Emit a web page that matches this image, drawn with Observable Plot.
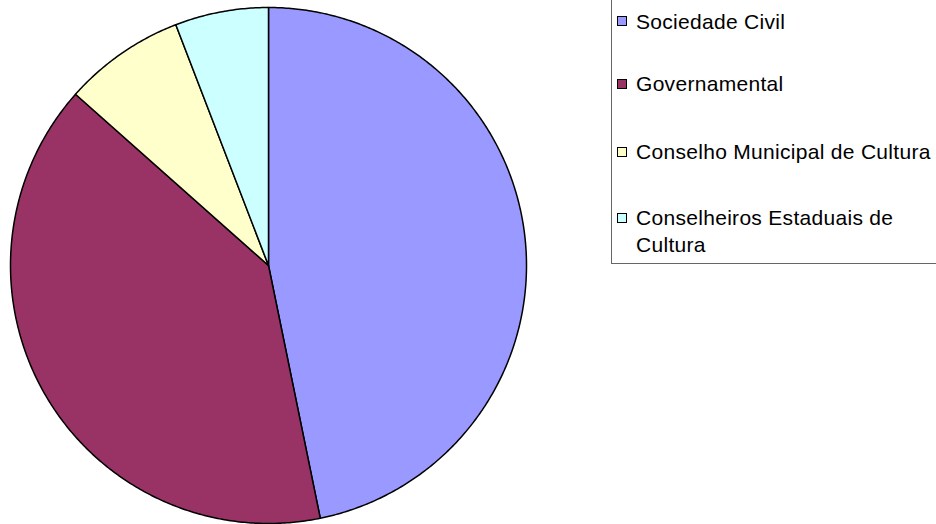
<!DOCTYPE html>
<html>
<head>
<meta charset="utf-8">
<script src="https://cdn.jsdelivr.net/npm/d3@7"></script>
<script src="https://cdn.jsdelivr.net/npm/@observablehq/plot@0.6"></script>
<style>
  html, body { margin: 0; padding: 0; background: #fff; overflow: hidden; }
  #wrap { position: relative; width: 936px; height: 524px; overflow: hidden; }
  #legend {
    position: absolute; left: 611px; top: -2px; width: 340px; height: 266px;
    border: 1px solid #666; box-sizing: border-box; background: #fff;
    font-family: "Liberation Sans", Arial, sans-serif; font-size: 21px; letter-spacing: 0.3px; color: #000;
  }
  .sw { position: absolute; left: 5px; width: 8px; height: 8px; border: 1px solid #000; }
  .lab { position: absolute; left: 24px; width: 302px; line-height: 27px; white-space: normal; }
</style>
</head>
<body>
<div id="wrap"></div>
<script>
// Data
const categories = ["Sociedade Civil", "Governamental", "Conselho Municipal de Cultura", "Conselheiros Estaduais de Cultura"];
const values = [80, 68, 13, 10];
const colors = ["#9999FF", "#993366", "#FFFFCC", "#CCFFFF"];

const rows = categories.map((c, i) => ({name: c, value: values[i]}));
const arcs = d3.pie().sort(null).value(d => d.value).startAngle(0).endAngle(2 * Math.PI)(rows);

// build slice outlines from the pie angles
const pts = [];
for (const a of arcs) {
  const name = a.data.name;
  pts.push({name, x: 0, y: 0});
  const n = Math.max(2, Math.ceil((a.endAngle - a.startAngle) / (Math.PI / 360)));
  for (let k = 0; k <= n; k++) {
    const t = a.startAngle + (a.endAngle - a.startAngle) * k / n;
    pts.push({name, x: Math.sin(t), y: Math.cos(t)});
  }
  pts.push({name, x: 0, y: 0});
}

const chart = Plot.plot({
  width: 936,
  height: 524,
  marginLeft: 10,
  marginRight: 410,
  marginTop: 7,
  marginBottom: 1,
  x: {domain: [-1, 1], axis: null},
  y: {domain: [-1, 1], axis: null},
  color: {domain: categories, range: colors},
  style: {overflow: "visible", background: "#fff"},
  marks: [
    Plot.line(pts, {x: "x", y: "y", z: "name", fill: "name", stroke: "#000", strokeWidth: 1.5, strokeLinejoin: "round", curve: "linear"})
  ]
});

const wrap = document.getElementById("wrap");
wrap.appendChild(chart);

const legend = document.createElement("div");
legend.id = "legend";
const centers = [22, 84.5, 152.5, 218.5]; // row centres relative to legend box
categories.forEach((c, i) => {
  const sw = document.createElement("div");
  sw.className = "sw";
  sw.style.top = (centers[i] - 5) + "px";
  sw.style.background = colors[i];
  const lab = document.createElement("div");
  lab.className = "lab";
  lab.style.top = (centers[i] - 13.5) + "px";
  lab.textContent = c;
  legend.appendChild(sw);
  legend.appendChild(lab);
});
wrap.appendChild(legend);
</script>
</body>
</html>
